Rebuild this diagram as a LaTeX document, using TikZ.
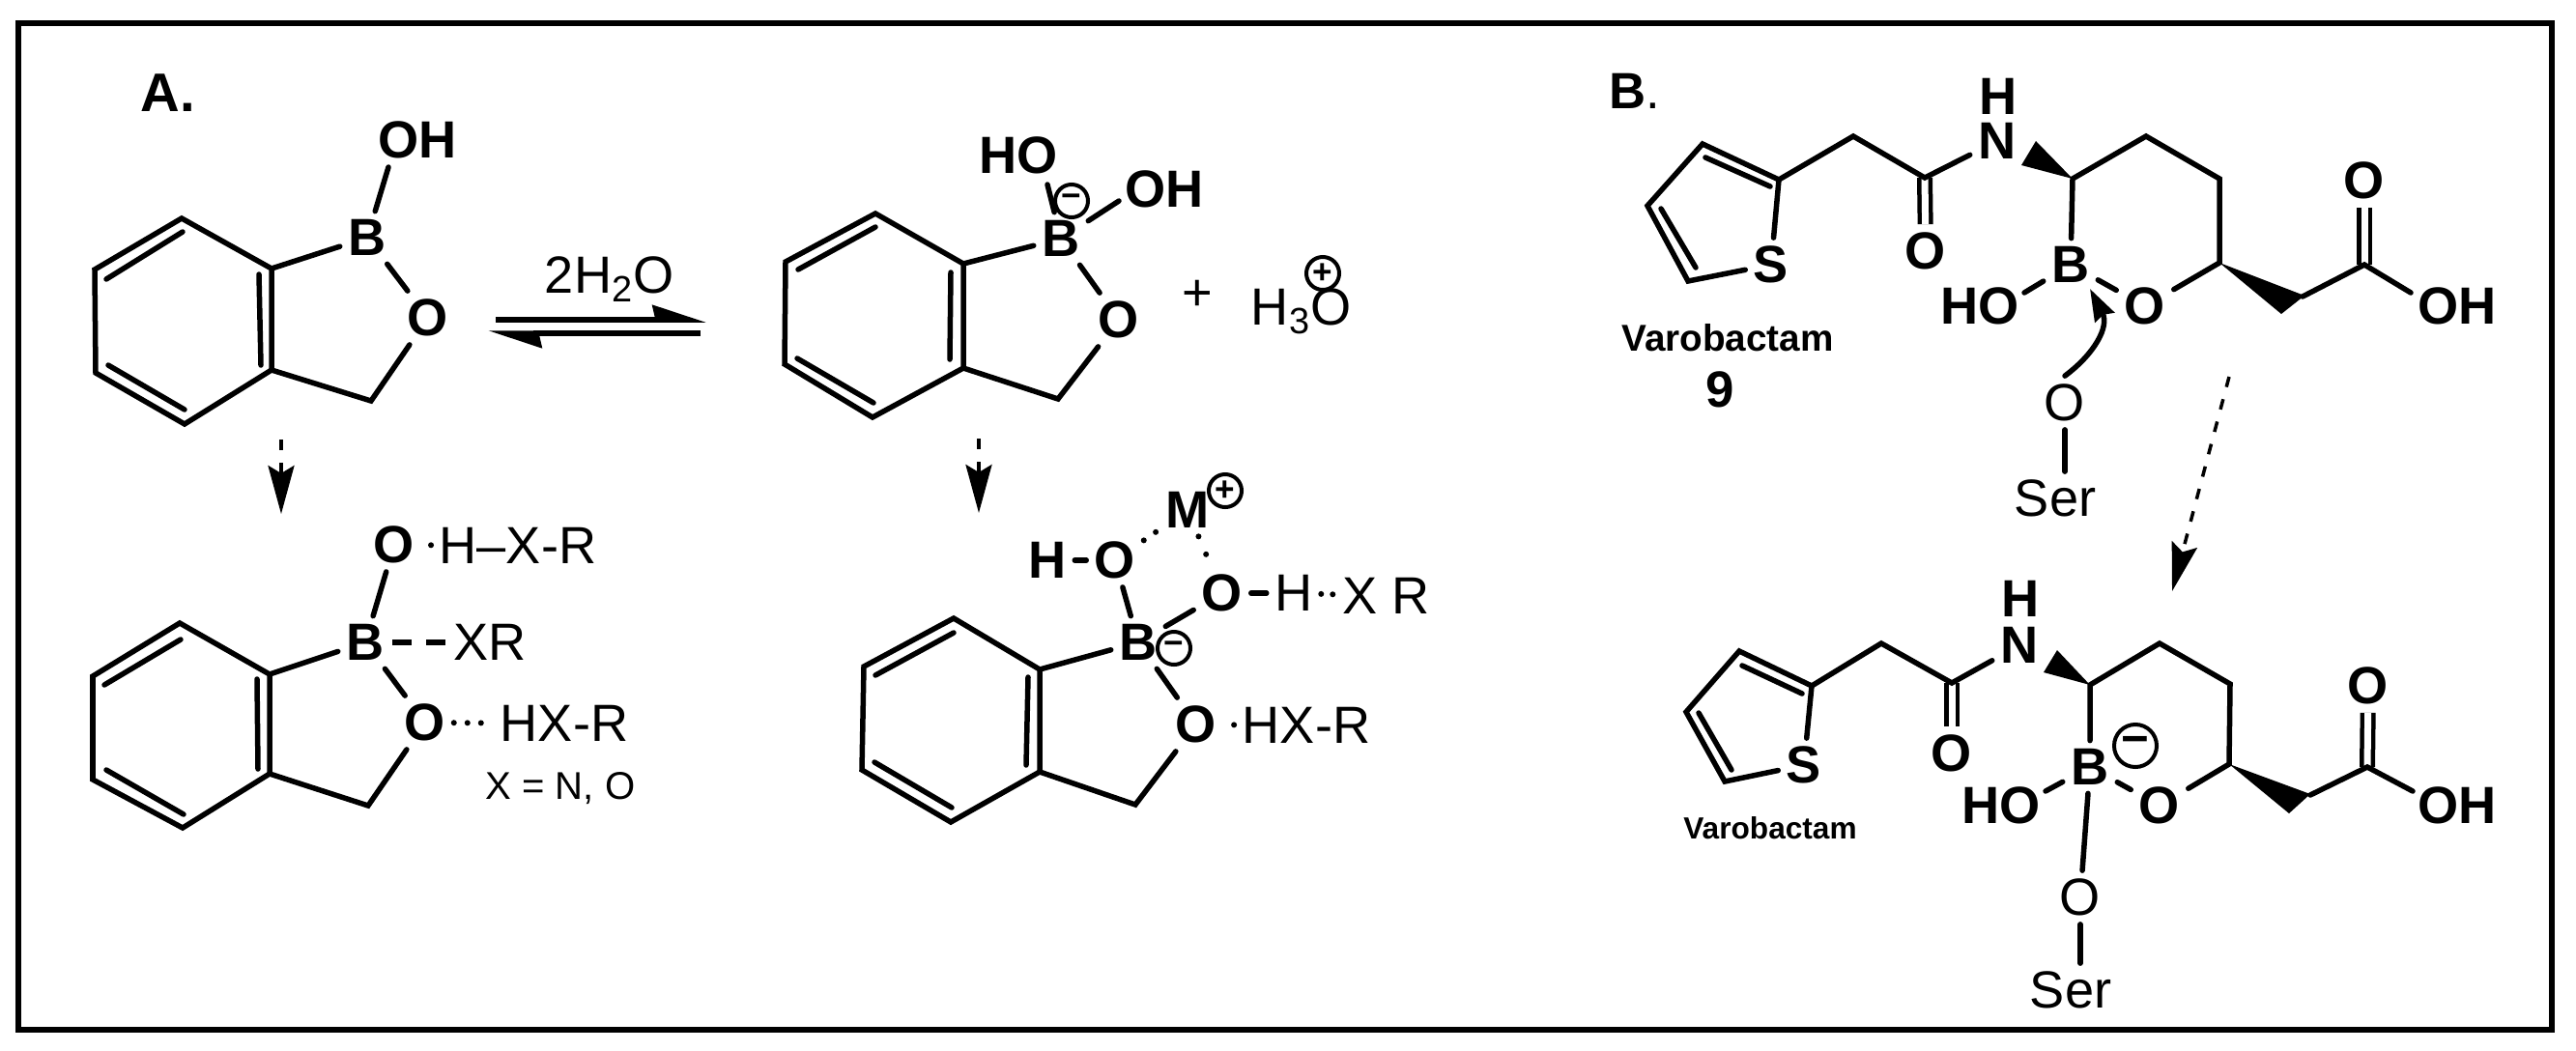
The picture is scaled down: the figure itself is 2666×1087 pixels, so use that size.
\documentclass[tikz,border=0pt]{standalone}
\usepackage{fontspec}
\setmainfont{Liberation Sans}
\usetikzlibrary{arrows.meta}
\tikzset{
  bond/.style={line width=.055cm, line cap=round},
  dblbond/.style={line width=.045cm, double, double distance=.07cm},
  dashbond/.style={line width=.055cm, dash pattern=on .2cm off .15cm},
  hbond/.style={line width=.06cm, line cap=round, dash pattern=on 0pt off .14cm},
  atomb/.style={inner sep=.08cm, font=\fontsize{15.4}{18}\selectfont\bfseries},
  atomr/.style={inner sep=.08cm, font=\fontsize{15.4}{18}\selectfont},
  namelab/.style={inner sep=0pt, font=\fontsize{#1}{14}\selectfont\bfseries},
  chg/.style={circle, draw, line width=.04cm, inner sep=0pt, minimum size=.34cm, font=\fontsize{10}{12}\selectfont\bfseries},
  stepdash/.style={line width=.035cm, dash pattern=on .11cm off .13cm,
    -{Stealth[length=.5cm,width=.27cm,inset=.08cm]}},
  eqarrow/.style={line width=.055cm, -{Stealth[harpoon,length=.47cm,width=.3cm,inset=.03cm]}}
}
\begin{document}
\begin{tikzpicture}[x=0.01cm, y=-0.01cm]
      \useasboundingbox (0,0) rectangle (2666,1087);
      \draw[line width=.055cm] (19,24) rectangle (2641,1066);

      \node[atomb, font=\fontsize{16}{18}\selectfont\bfseries] (labA) at (174,96) {A.};
      \node[atomb, font=\fontsize{15}{18}\selectfont] (labB) at (1692,94) {\textbf{B}.};

      \coordinate (r1a) at (188,226);
      \coordinate (r1b) at (98,279);
      \coordinate (r1c) at (99,386);
      \coordinate (r1d) at (191,439);
      \coordinate (r1e) at (281,383);
      \coordinate (r1f) at (281,278);
      \coordinate (r1g) at (384,415);
      \coordinate (oh1c) at (402,173);
      \node[atomb] (b1) at (380,246) {B};
      \node[atomb] (oh1) at (432,145) {OH};
      \node[atomb] (o1) at (443,329) {O};
      \draw[bond] (r1a) -- (r1b) -- (r1c) -- (r1d) -- (r1e) -- (r1f) -- cycle;
      \draw[bond] (110,289) -- (189,240);
      \draw[bond] (112,378) -- (191,424);
      \draw[bond] (268,284) -- (270,378);
      \draw[bond] (r1f) -- (b1);
      \draw[bond] (b1) -- (oh1c);
      \draw[bond] (b1) -- (o1);
      \draw[bond] (o1) -- (r1g) -- (r1e);

      \coordinate (eq1a) at (513,331);
      \coordinate (eq1b) at (731,331);
      \coordinate (eq2a) at (725,345);
      \coordinate (eq2b) at (505,345);
      \draw[eqarrow] (eq1a) -- (eq1b);
      \draw[eqarrow] (eq2a) -- (eq2b);
      \node[atomr, anchor=base] (water) at (631,303) {2H\textsubscript{2}O};

      \coordinate (r2a) at (906,221);
      \coordinate (r2b) at (813,271);
      \coordinate (r2c) at (812,377);
      \coordinate (r2d) at (903,432);
      \coordinate (r2e) at (997,381);
      \coordinate (r2f) at (997,273);
      \coordinate (r2g) at (1095,413);
      \coordinate (ho2c) at (1084,191);
      \coordinate (oh2c) at (1158,208);
      \node[atomb] (b2) at (1098,247) {B};
      \node[atomb] (ho2) at (1054,161) {HO};
      \node[atomb] (oh2) at (1205,196) {OH};
      \node[atomb] (o2) at (1158,331) {O};
      \node[chg] (neg2) at (1109,208) {−};
      \draw[bond] (r2a) -- (r2b) -- (r2c) -- (r2d) -- (r2e) -- (r2f) -- cycle;
      \draw[bond] (826,279) -- (906,235);
      \draw[bond] (825,371) -- (904,417);
      \draw[bond] (984,282) -- (983,372);
      \draw[bond] (r2f) -- (b2);
      \draw[bond] (b2) -- (ho2c);
      \draw[bond] (b2) -- (oh2c);
      \draw[bond] (b2) -- (o2);
      \draw[bond] (o2) -- (r2g) -- (r2e);
      \node[atomr] (plus2) at (1239,306) {+};
      \node[atomr, anchor=base] (hyd2) at (1347,336) {H\textsubscript{3}O};
      \node[chg] (pos2) at (1369,283) {+};

      \coordinate (st1a) at (291,455);
      \coordinate (st1b) at (291,532);
      \coordinate (st2a) at (1013,454);
      \coordinate (st2b) at (1013,531);
      \draw[stepdash] (st1a) -- (st1b);
      \draw[stepdash] (st2a) -- (st2b);

      \coordinate (r3a) at (186,645);
      \coordinate (r3b) at (96,700);
      \coordinate (r3c) at (96,807);
      \coordinate (r3d) at (189,857);
      \coordinate (r3e) at (279,801);
      \coordinate (r3f) at (279,698);
      \coordinate (r3g) at (381,834);
      \node[atomb] (b3) at (378,665) {B};
      \node[atomb] (o3a) at (408,564) {O};
      \node[atomr] (hx3a) at (536,565) {H–X-R};
      \node[atomr] (xr3) at (507,665) {XR};
      \node[atomb] (o3b) at (440,748) {O};
      \node[atomr] (hx3b) at (584,749) {HX-R};
      \node[atomr, font=\fontsize{11.4}{14}\selectfont] (xdef) at (580,816) {X = N, O};
      \draw[bond] (r3a) -- (r3b) -- (r3c) -- (r3d) -- (r3e) -- (r3f) -- cycle;
      \draw[bond] (108,709) -- (187,662);
      \draw[bond] (110,797) -- (190,843);
      \draw[bond] (266,703) -- (267,796);
      \draw[bond] (r3f) -- (b3);
      \draw[bond] (b3) -- (o3a);
      \draw[bond] (b3) -- (o3b);
      \draw[bond] (o3b) -- (r3g) -- (r3e);
      \draw[dashbond] (b3) -- (xr3);
      \draw[hbond] (hx3a) -- (o3a);
      \draw[hbond] (o3b) -- (hx3b);

      \coordinate (r4a) at (987,640);
      \coordinate (r4b) at (894,690);
      \coordinate (r4c) at (892,797);
      \coordinate (r4d) at (984,851);
      \coordinate (r4e) at (1076,799);
      \coordinate (r4f) at (1076,693);
      \coordinate (r4g) at (1175,833);
      \node[atomb] (b4) at (1178,665) {B};
      \node[chg] (neg4) at (1215,671) {−};
      \node[atomb] (h4a) at (1084,580) {H};
      \node[atomb] (o4a) at (1154,580) {O};
      \node[atomb] (m4) at (1229,528) {M};
      \node[chg] (pos4) at (1268,508) {+};
      \node[atomb] (o4b) at (1265,614) {O};
      \node[atomr] (h4b) at (1339,614) {H};
      \node[atomr] (xr4) at (1435,617) {X R};
      \node[atomb] (o4c) at (1238,750) {O};
      \node[atomr] (hx4) at (1352,751) {HX-R};
      \draw[bond] (r4a) -- (r4b) -- (r4c) -- (r4d) -- (r4e) -- (r4f) -- cycle;
      \draw[bond] (906,699) -- (987,655);
      \draw[bond] (905,789) -- (985,836);
      \draw[bond] (1064,701) -- (1062,792);
      \draw[bond] (r4f) -- (b4);
      \draw[bond] (b4) -- (o4a);
      \draw[bond] (b4) -- (o4b);
      \draw[bond] (b4) -- (o4c);
      \draw[bond] (h4a) -- (o4a);
      \draw[bond] (o4b) -- (h4b);
      \draw[bond] (o4c) -- (r4g) -- (r4e);
      \draw[hbond, dash pattern=on 0pt off .15cm] (o4a) -- (m4);
      \draw[hbond, dash pattern=on 0pt off .2cm] (m4) -- (o4b);
      \draw[hbond, dash pattern=on 0pt off .12cm] (h4b) -- (xr4);
      \draw[hbond] (hx4) -- (o4c);

      \coordinate (c5a) at (1762,149);
      \coordinate (c5b) at (1705,213);
      \coordinate (c5c) at (1747,291);
      \coordinate (c5d) at (1841,186);
      \coordinate (c5e) at (1918,141);
      \coordinate (c5f) at (1992,184);
      \coordinate (c5g) at (2145,185);
      \coordinate (c5h) at (2221,141);
      \coordinate (c5i) at (2297,185);
      \coordinate (c5j) at (2297,272);
      \coordinate (c5k) at (2383,307);
      \coordinate (c5l) at (2447,274);
      \coordinate (w5a) at (2107,146);
      \coordinate (w5b) at (2092,171);
      \coordinate (w5c) at (2385,306);
      \coordinate (w5d) at (2361,325);
      \coordinate (ho5c) at (2095,303);
      \coordinate (oh5c) at (2495,303);
      \coordinate (cv5) at (2163,299);
      \node[atomb] (s5) at (1833,274) {S};
      \node[atomb] (o5a) at (1993,260) {O};
      \node[atomb] (n5) at (2067,146) {N};
      \node[atomb] (h5) at (2068,100) {H};
      \node[atomb] (b5) at (2143,274) {B};
      \node[atomb] (ho5) at (2049,317) {HO};
      \node[atomb] (o5b) at (2220,317) {O};
      \node[atomb] (o5c) at (2447,187) {O};
      \node[atomb] (oh5) at (2543,317) {OH};
      \node[atomr] (o5s) at (2137,417) {O};
      \node[atomr] (ser5) at (2127,516) {Ser};
      \node[namelab=11] (var5) at (1788,350) {Varobactam};
      \node[namelab=15] (num5) at (1780,403) {9};
      \draw[bond] (c5d) -- (c5a) -- (c5b) -- (c5c) -- (s5) -- (c5d);
      \draw[bond] (1765,163) -- (1832,193);
      \draw[bond] (1719,216) -- (1755,277);
      \draw[dblbond] (c5f) -- (o5a);
      \draw[dblbond] (c5l) -- (o5c);
      \draw[bond] (c5d) -- (c5e) -- (c5f) -- (n5);
      \draw[bond] (b5) -- (c5g) -- (c5h) -- (c5i) -- (c5j) -- (o5b);
      \draw[bond] (b5) -- (ho5c);
      \draw[bond] (b5) -- (o5b);
      \draw[bond] (c5k) -- (c5l) -- (oh5c);
      \fill (c5g) -- (w5a) -- (w5b) -- cycle;
      \fill (c5j) -- (w5c) -- (w5d) -- cycle;
      \draw[bond, -{Stealth[length=.33cm,width=.22cm,inset=.03cm]}] (o5s.north) .. controls (2168,366) and (2183,338) .. (cv5);
      \draw[bond] (o5s.south) -- (o5s.south |- ser5.north);

      \coordinate (st3a) at (2307,390);
      \coordinate (st3b) at (2248,612);
      \draw[stepdash] (st3a) -- (st3b);

      \coordinate (c6a) at (1800,674);
      \coordinate (c6b) at (1745,737);
      \coordinate (c6c) at (1785,809);
      \coordinate (c6d) at (1875,710);
      \coordinate (c6e) at (1947,666);
      \coordinate (c6f) at (2020,707);
      \coordinate (c6g) at (2163,709);
      \coordinate (c6h) at (2235,666);
      \coordinate (c6i) at (2308,708);
      \coordinate (c6j) at (2307,791);
      \coordinate (c6k) at (2391,823);
      \coordinate (c6l) at (2450,794);
      \coordinate (w6a) at (2129,673);
      \coordinate (w6b) at (2115,696);
      \coordinate (w6c) at (2391,822);
      \coordinate (w6d) at (2369,842);
      \coordinate (ho6c) at (2117,819);
      \coordinate (oh6c) at (2497,819);
      \node[atomb] (s6) at (1867,792) {S};
      \node[atomb] (o6a) at (2020,780) {O};
      \node[atomb] (n6) at (2090,668) {N};
      \node[atomb] (h6) at (2091,620) {H};
      \node[atomb] (b6) at (2163,794) {B};
      \node[atomb] (ho6) at (2071,834) {HO};
      \node[atomb] (o6b) at (2235,834) {O};
      \node[atomb] (o6c) at (2451,710) {O};
      \node[atomb] (oh6) at (2543,834) {OH};
      \node[atomr] (o6s) at (2153,929) {O};
      \node[atomr] (ser6) at (2143,1025) {Ser};
      \node[namelab=9] (var6) at (1832,857) {Varobactam};
      \node[chg, minimum size=.44cm, font=\fontsize{14}{16}\selectfont\bfseries] (neg6) at (2210,772) {−};
      \draw[bond] (c6d) -- (c6a) -- (c6b) -- (c6c) -- (s6) -- (c6d);
      \draw[bond] (1803,689) -- (1865,718);
      \draw[bond] (1758,738) -- (1792,797);
      \draw[dblbond] (c6f) -- (o6a);
      \draw[dblbond] (c6l) -- (o6c);
      \draw[bond] (c6d) -- (c6e) -- (c6f) -- (n6);
      \draw[bond] (b6) -- (c6g) -- (c6h) -- (c6i) -- (c6j) -- (o6b);
      \draw[bond] (b6) -- (ho6c);
      \draw[bond] (b6) -- (o6b);
      \draw[bond] (b6) -- (o6s);
      \draw[bond] (c6k) -- (c6l) -- (oh6c);
      \fill (c6g) -- (w6a) -- (w6b) -- cycle;
      \fill (c6j) -- (w6c) -- (w6d) -- cycle;
      \draw[bond] (o6s.south) -- (o6s.south |- ser6.north);
\end{tikzpicture}
\end{document}
